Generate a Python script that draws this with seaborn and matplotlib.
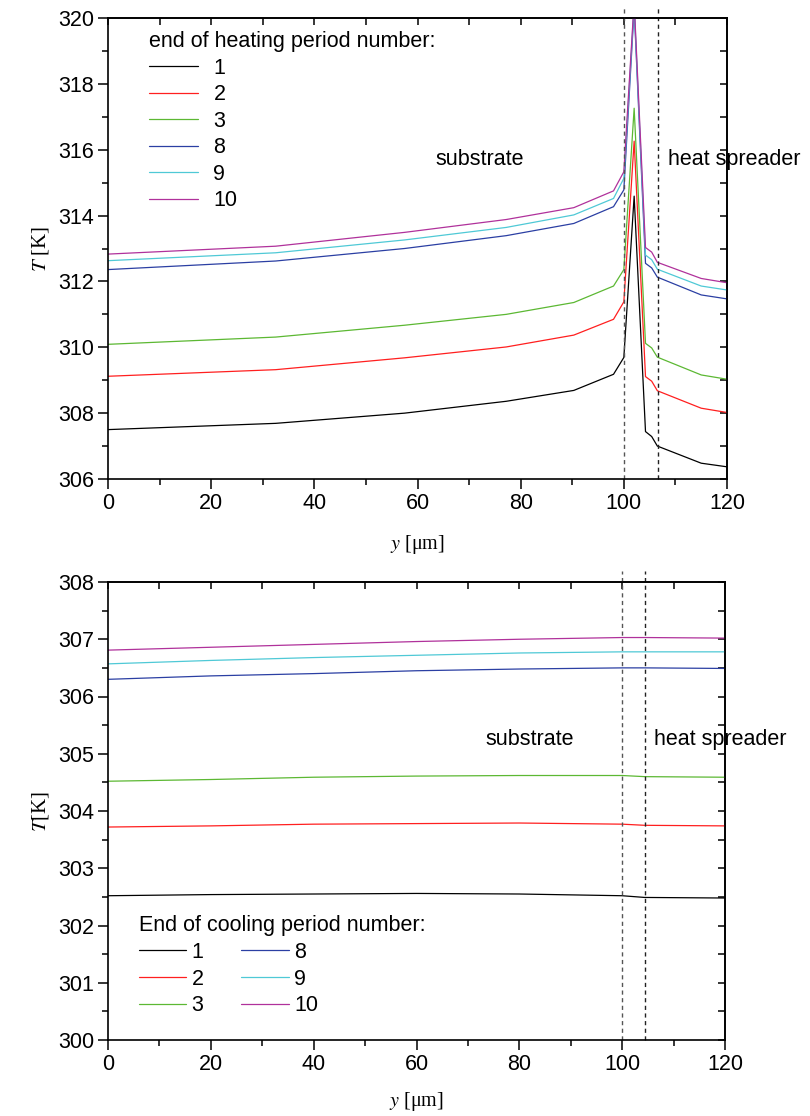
import numpy as np
import pandas as pd
import matplotlib
matplotlib.use('Agg')
import matplotlib.pyplot as plt
from matplotlib.ticker import MultipleLocator
import seaborn as sns

# --- data ---
periods = ['1', '2', '3', '8', '9', '10']
colors = ['#000000', '#ff1f1f', '#5cb833', '#2b3fa3', '#4fc9d6', '#b0319b']

# heating (top panel)
y_heat = [0, 32.5, 57.5, 77.2, 90.3, 98, 100, 102, 104.2, 105.4, 106.5, 115, 120]
T_heat_1 = [307.50, 307.69, 308.00, 308.36, 308.69, 309.18, 309.69, 314.59, 307.44, 307.29, 307.00, 306.48, 306.37]
T_heat_2 = [309.12, 309.32, 309.68, 310.01, 310.37, 310.85, 311.38, 316.26, 309.11, 308.97, 308.68, 308.15, 308.02]
T_heat_3 = [310.09, 310.31, 310.67, 311.00, 311.36, 311.86, 312.36, 317.26, 310.12, 309.98, 309.70, 309.16, 309.03]
T_heat_8 = [312.36, 312.62, 313.00, 313.39, 313.76, 314.27, 314.78, 320.30, 312.55, 312.41, 312.13, 311.59, 311.47]
T_heat_9 = [312.63, 312.87, 313.26, 313.64, 314.02, 314.52, 315.13, 320.40, 312.80, 312.66, 312.37, 311.86, 311.74]
T_heat_10 = [312.83, 313.07, 313.49, 313.88, 314.24, 314.75, 315.33, 320.50, 313.03, 312.89, 312.58, 312.09, 311.96]

# cooling (bottom panel)
y_cool = [0, 20, 40, 60, 80, 100, 104.4, 120]
T_cool_1 = [302.52, 302.54, 302.55, 302.56, 302.55, 302.52, 302.49, 302.48]
T_cool_2 = [303.72, 303.74, 303.77, 303.78, 303.79, 303.77, 303.75, 303.74]
T_cool_3 = [304.52, 304.55, 304.59, 304.61, 304.62, 304.62, 304.60, 304.59]
T_cool_8 = [306.30, 306.36, 306.40, 306.45, 306.48, 306.50, 306.50, 306.49]
T_cool_9 = [306.57, 306.63, 306.68, 306.72, 306.76, 306.78, 306.78, 306.78]
T_cool_10 = [306.81, 306.86, 306.91, 306.96, 307.00, 307.03, 307.03, 307.02]


def long_df(x, series):
    rows = []
    for p, vals in zip(periods, series):
        for xi, ti in zip(x, vals):
            rows.append({'y': xi, 'T': ti, 'period': p})
    return pd.DataFrame(rows)


heat_df = long_df(y_heat, [T_heat_1, T_heat_2, T_heat_3, T_heat_8, T_heat_9, T_heat_10])
cool_df = long_df(y_cool, [T_cool_1, T_cool_2, T_cool_3, T_cool_8, T_cool_9, T_cool_10])

FS = 15.5

sns.set_style('ticks')
plt.rcParams['font.family'] = ['Liberation Sans', 'DejaVu Sans']
plt.rcParams['font.size'] = FS
plt.rcParams['axes.linewidth'] = 1.2
plt.rcParams['mathtext.fontset'] = 'stix'
for key in ['text.color', 'axes.labelcolor', 'xtick.color', 'ytick.color', 'axes.edgecolor']:
    plt.rcParams[key] = 'black'

fig = plt.figure(figsize=(8.1, 11.16), dpi=100)
ax1 = fig.add_axes([108 / 810, 1 - 479 / 1116, 619 / 810, 461 / 1116])
ax2 = fig.add_axes([108 / 810, 1 - 1040 / 1116, 617 / 810, 458 / 1116])
palette = dict(zip(periods, colors))


def style_axes(ax, ymin, ymax, ymajor, yminor, right_step):
    ax.set_xlim(0, 120)
    ax.set_ylim(ymin, ymax)
    ax.xaxis.set_major_locator(MultipleLocator(20))
    ax.xaxis.set_minor_locator(MultipleLocator(10))
    ax.yaxis.set_major_locator(MultipleLocator(ymajor))
    ax.yaxis.set_minor_locator(MultipleLocator(yminor))
    ax.tick_params(which='major', direction='out', length=7, width=1.1, labelsize=FS, pad=3)
    ax.tick_params(which='minor', direction='out', length=4, width=1.1)
    for s in ax.spines.values():
        s.set_visible(True)
        s.set_linewidth(1.2)
    top = ax.secondary_xaxis('top')
    top.xaxis.set_major_locator(MultipleLocator(10))
    top.tick_params(direction='in', length=5, width=1.1, labeltop=False)
    right = ax.secondary_yaxis('right')
    right.yaxis.set_major_locator(MultipleLocator(right_step))
    right.tick_params(direction='in', length=5, width=1.1, labelright=False)


def draw(ax, df, title, ncol, anchor, dash_x, hl, htp, cs):
    sns.lineplot(data=df, x='y', y='T', hue='period', hue_order=periods,
                 palette=palette, estimator=None, sort=False, lw=0.9, ax=ax, legend=False)
    ax.axvline(dash_x[0], color='#555555', ls=(0, (3, 2.5)), lw=1.0, ymax=1.025, clip_on=False)
    ax.axvline(dash_x[1], color='#222222', ls=(0, (3, 2.5)), lw=1.0, ymax=1.025, clip_on=False)
    handles = [plt.Line2D([], [], color=c, lw=0.9) for c in colors]
    ax.legend(handles, periods, title=title, loc='upper left', bbox_to_anchor=anchor,
              frameon=False, ncol=ncol, borderpad=0, borderaxespad=0,
              handlelength=hl, handletextpad=htp, labelspacing=0.26,
              columnspacing=cs, alignment='left', fontsize=FS, title_fontsize=FS)


draw(ax1, heat_df, 'end of heating period number:', 1, (0.066, 0.972), (100, 106.6), 2.3, 0.7, 2.0)
style_axes(ax1, 306, 320, 2, 1, 1)
ax1.text(72, 315.7, 'substrate', ha='center', va='center', fontsize=FS)
ax1.text(108.5, 315.7, 'heat spreader', ha='left', va='center', fontsize=FS)
ax1.set_xlabel(r'$y$ [μm]', family='Liberation Serif', fontsize=14.5, labelpad=14)
ax1.set_ylabel(r'$T$ [K]', family='Liberation Serif', fontsize=15, labelpad=5)

draw(ax2, cool_df, 'End of cooling period number:', 2, (0.05, 0.272), (100, 104.4), 2.2, 0.25, 1.75)
style_axes(ax2, 300, 308, 1, 0.5, 0.5)
ax2.text(82, 305.25, 'substrate', ha='center', va='center', fontsize=FS)
ax2.text(106.2, 305.25, 'heat spreader', ha='left', va='center', fontsize=FS)
ax2.set_xlabel(r'$y$ [μm]', family='Liberation Serif', fontsize=14.5, labelpad=11)
ax2.set_ylabel(r'$T$[K]', family='Liberation Serif', fontsize=15, labelpad=5)

fig.savefig('out.png', dpi=100)
plt.close(fig)
